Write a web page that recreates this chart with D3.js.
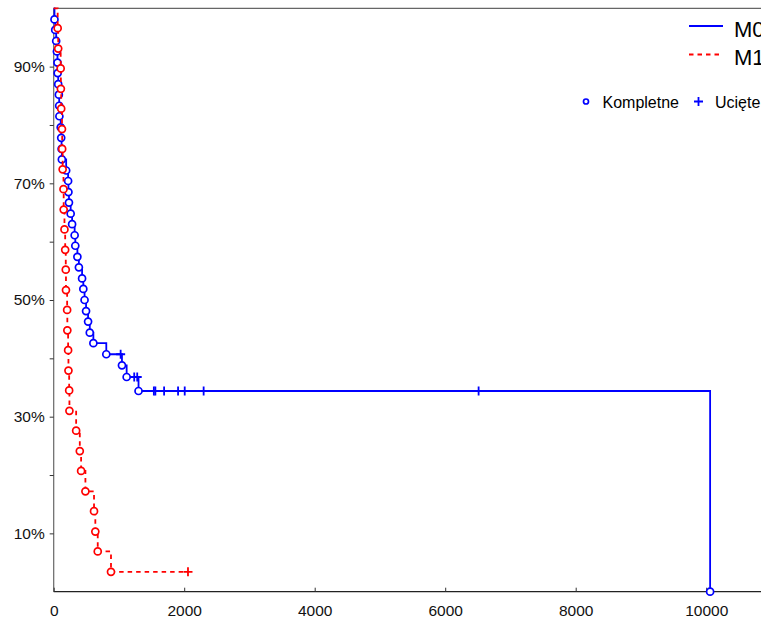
<!DOCTYPE html>
<html>
<head>
<meta charset="utf-8">
<script src="https://cdn.jsdelivr.net/npm/d3@7"></script>
<style>
  html, body { margin: 0; padding: 0; background: #fff; }
  svg { display: block; font-family: "Liberation Sans", Arial, sans-serif; }
</style>
</head>
<body>
<div id="chart"></div>
<script>
// Krzywe przeżycia (Kaplan-Meier)
// M0: czasy zdarzeń (kompletne) i poziom przeżycia po zdarzeniu [%]
const m0Times = [12, 23, 38, 49, 58, 61, 69, 79, 84, 87, 107, 115, 121, 125, 191, 221, 226, 234,
                 260, 282, 321, 331, 363, 386, 435, 454, 473, 496, 527, 553, 608, 806, 1046, 1118, 1300, 10060];
const m0Surv = [98.1, 96.3, 94.4, 92.6, 90.7, 88.9, 87.0, 85.2, 83.3, 81.5, 79.6, 77.8, 75.9, 74.1, 72.2, 70.4, 68.5, 66.7,
                64.8, 63.0, 61.1, 59.3, 57.4, 55.6, 53.7, 51.9, 50.0, 48.1, 46.3, 44.4, 42.6, 40.7, 38.8, 36.8, 34.4, 0];
// M0: obserwacje ucięte
const m0Censored = [1026, 1234, 1280, 1535, 1558, 1692, 1906, 2008, 2298, 6512];

// M1
const m1Times = [61, 69, 107, 110, 115, 127, 130, 137, 150, 153, 165, 176, 185, 188, 206, 209, 221, 226,
                 237, 241, 344, 400, 420, 486, 618, 638, 675, 878];
const m1Surv = [96.6, 93.1, 89.7, 86.2, 82.8, 79.3, 75.9, 72.4, 69.0, 65.5, 62.1, 58.6, 55.2, 51.7, 48.3, 44.8, 41.4, 37.9,
                34.5, 31.0, 27.6, 24.1, 20.7, 17.2, 13.8, 10.3, 6.9, 3.4];
const m1Censored = [2058];

const xTicks = [0, 2000, 4000, 6000, 8000, 10000];
const yTicks = [0.1, 0.2, 0.3, 0.4, 0.5, 0.6, 0.7, 0.8, 0.9];
const yLabels = [0.1, 0.3, 0.5, 0.7, 0.9];

const width = 761;
const height = 623;
const marginLeft = 53.7;
const plotTop = 8.3;
const plotBottom = 591.7;

const x = d3.scaleLinear().domain([0, 10000]).range([marginLeft, 706.2]);
const y = d3.scaleLinear().domain([0, 1]).range([plotBottom, plotTop]);

const svg = d3.select("#chart").append("svg")
    .attr("width", width)
    .attr("height", height);

// ramka: góra i lewa oś
svg.append("line").attr("x1", marginLeft).attr("x2", width).attr("y1", plotTop).attr("y2", plotTop)
    .attr("stroke", "#666").attr("stroke-width", 1.2);
svg.append("line").attr("x1", marginLeft).attr("x2", marginLeft).attr("y1", plotTop).attr("y2", plotBottom)
    .attr("stroke", "#666").attr("stroke-width", 1.2);
svg.append("line").attr("x1", marginLeft).attr("x2", width).attr("y1", plotBottom).attr("y2", plotBottom)
    .attr("stroke", "#222").attr("stroke-width", 1.2);

// oś Y
const yAxis = svg.append("g")
    .attr("transform", `translate(${marginLeft},0)`)
    .call(d3.axisLeft(y).tickValues(yTicks).tickSize(4).tickPadding(5)
        .tickFormat(d => yLabels.some(v => Math.abs(v - d) < 1e-9) ? d3.format(".0%")(d) : ""));
yAxis.select(".domain").remove();
yAxis.selectAll("line").attr("stroke", "#333");
yAxis.selectAll("text").attr("font-size", 15.5).attr("fill", "#111")
    .attr("font-family", "'Liberation Sans', Arial, sans-serif");

// oś X (kreski do wewnątrz)
const xAxis = svg.append("g")
    .attr("transform", `translate(0,${plotBottom})`)
    .call(d3.axisBottom(x).tickValues(xTicks).tickSize(-4).tickPadding(13).tickFormat(d3.format("d")));
xAxis.select(".domain").remove();
xAxis.selectAll("line").attr("stroke", "#333");
xAxis.selectAll("text").attr("font-size", 15.5).attr("fill", "#111")
    .attr("font-family", "'Liberation Sans', Arial, sans-serif");

function buildSeries(times, surv, censored) {
    const pts = [[0, 1]].concat(times.map((t, i) => [t, surv[i] / 100]));
    const lastCens = censored.length ? d3.max(censored) : 0;
    if (lastCens > times[times.length - 1]) pts.push([lastCens, surv[surv.length - 1] / 100]);
    const bis = d3.bisector(d => d[0]).right;
    const cens = censored.map(t => [t, pts[bis(pts, t) - 1][1]]);
    return { pts, events: pts.slice(1, times.length + 1), cens };
}

const linia = d3.line()
    .x(d => x(d[0]))
    .y(d => y(d[1]))
    .curve(d3.curveStepAfter);

function drawCurve(series, color, dash) {
    svg.append("path")
        .datum(series.pts)
        .attr("fill", "none")
        .attr("stroke", color)
        .attr("stroke-width", 1.8)
        .attr("stroke-dasharray", dash)
        .attr("d", linia);

    svg.append("g").selectAll("path")
        .data(series.cens)
        .join("path")
        .attr("d", d => `M${x(d[0]) - 4.5},${y(d[1])}h9M${x(d[0])},${y(d[1]) - 4.5}v9`)
        .attr("stroke", color)
        .attr("stroke-width", 1.8);

    svg.append("g").selectAll("circle")
        .data(series.events)
        .join("circle")
        .attr("cx", d => x(d[0]))
        .attr("cy", d => y(d[1]))
        .attr("r", 3.5)
        .attr("fill", "white")
        .attr("stroke", color)
        .attr("stroke-width", 1.7);
}

drawCurve(buildSeries(m0Times, m0Surv, m0Censored), "#0000ff", null);
drawCurve(buildSeries(m1Times, m1Surv, m1Censored), "#ff0000", "4.5,4");

// legenda
const leg = svg.append("g");
leg.append("line").attr("x1", 689).attr("x2", 723).attr("y1", 26).attr("y2", 26)
    .attr("stroke", "#0000ff").attr("stroke-width", 1.8);
leg.append("text").attr("x", 734).attr("y", 36.5).attr("font-size", 22).text("M0");
leg.append("line").attr("x1", 689).attr("x2", 723).attr("y1", 54.5).attr("y2", 54.5)
    .attr("stroke", "#ff0000").attr("stroke-width", 1.8).attr("stroke-dasharray", "4.5,4");
leg.append("text").attr("x", 734).attr("y", 65).attr("font-size", 22).text("M1");

leg.append("circle").attr("cx", 586).attr("cy", 101.5).attr("r", 2.5)
    .attr("fill", "white").attr("stroke", "#0000ff").attr("stroke-width", 1.7);
leg.append("text").attr("x", 602.5).attr("y", 107.5).attr("font-size", 16).text("Kompletne");
leg.append("path").attr("d", "M694,101.5h9M698.5,97v9")
    .attr("stroke", "#0000ff").attr("stroke-width", 1.8);
leg.append("text").attr("x", 715).attr("y", 107.5).attr("font-size", 16).text("Ucięte");
</script>
</body>
</html>
